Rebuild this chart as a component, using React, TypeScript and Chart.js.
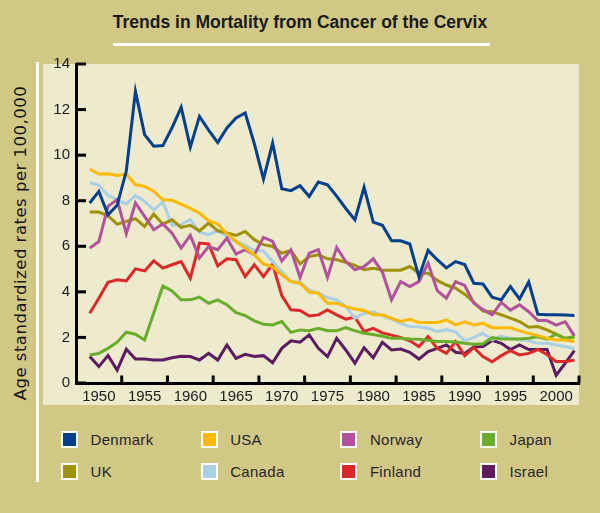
import React, { useEffect, useRef } from "react";
import { Chart, registerables } from "chart.js";

Chart.register(...registerables);

// ---------- DATA ----------
const years = [
  1949, 1950, 1951, 1952, 1953, 1954, 1955, 1956, 1957, 1958,
  1959, 1960, 1961, 1962, 1963, 1964, 1965, 1966, 1967, 1968,
  1969, 1970, 1971, 1972, 1973, 1974, 1975, 1976, 1977, 1978,
  1979, 1980, 1981, 1982, 1983, 1984, 1985, 1986, 1987, 1988,
  1989, 1990, 1991, 1992, 1993, 1994, 1995, 1996, 1997, 1998,
  1999, 2000, 2001, 2002,
];

const denmark = [
  7.9, 8.41, 7.38, 7.8, 9.3, 12.8, 10.9, 10.39, 10.42, 11.2,
  12.1, 10.35, 11.7, 11.1, 10.55, 11.19, 11.63, 11.85, 10.5, 8.95,
  10.53, 8.53, 8.44, 8.66, 8.19, 8.82, 8.7, 8.2, 7.66, 7.16,
  8.59, 7.06, 6.92, 6.24, 6.24, 6.1, 4.65, 5.82, 5.41, 5.05,
  5.33, 5.2, 4.38, 4.35, 3.77, 3.65, 4.23, 3.69, 4.43, 3.02,
  3.0, 3.0, 2.98, 2.96,
];

const usa = [
  9.38, 9.17, 9.18, 9.11, 9.17, 8.7, 8.63, 8.42, 8.04, 8.02,
  7.85, 7.66, 7.46, 7.12, 6.97, 6.55, 6.21, 5.92, 5.63, 5.22,
  5.11, 4.75, 4.45, 4.38, 3.99, 3.94, 3.5, 3.5, 3.35, 3.25,
  3.18, 2.99, 2.99, 2.84, 2.7, 2.8, 2.65, 2.65, 2.65, 2.77,
  2.55, 2.68, 2.55, 2.62, 2.43, 2.43, 2.43, 2.29, 2.18, 2.08,
  1.96, 1.89, 1.89, 1.82,
];

const norway = [
  5.92, 6.21, 7.75, 8.05, 6.55, 7.9, 7.31, 6.73, 6.98, 6.58,
  5.92, 6.48, 5.48, 5.99, 5.85, 6.36, 5.66, 5.85, 5.63, 6.39,
  6.21, 5.36, 5.85, 4.63, 5.7, 5.85, 4.63, 5.95, 5.33, 4.97,
  5.11, 5.45, 4.87, 3.65, 4.45, 4.23, 4.45, 5.26, 4.05, 3.72,
  4.45, 4.28, 3.5, 3.22, 2.99, 3.54, 3.2, 3.43, 3.13, 2.74,
  2.74, 2.54, 2.69, 2.07,
];

const japan = [
  1.23, 1.3, 1.52, 1.79, 2.23, 2.14, 1.89, 3.07, 4.26, 4.04,
  3.65, 3.65, 3.77, 3.5, 3.65, 3.43, 3.09, 2.96, 2.73, 2.58,
  2.55, 2.7, 2.22, 2.33, 2.29, 2.4, 2.29, 2.29, 2.43, 2.29,
  2.18, 2.13, 2.05, 1.96, 1.96, 1.93, 1.92, 1.88, 1.82, 1.82,
  1.8, 1.74, 1.7, 1.72, 1.99, 1.93, 1.93, 1.93, 1.96, 2.03,
  1.92, 2.14, 1.93, 2.03,
];

const uk = [
  7.5, 7.5, 7.34, 6.97, 7.09, 7.21, 6.87, 7.41, 6.97, 7.16,
  6.83, 6.92, 6.68, 7.02, 6.68, 6.58, 6.48, 6.65, 6.29, 6.07,
  5.99, 5.7, 5.82, 5.23, 5.55, 5.63, 5.45, 5.41, 5.3, 5.16,
  4.97, 5.04, 4.95, 4.95, 4.95, 5.11, 4.82, 4.82, 4.5, 4.3,
  4.16, 3.9, 3.55, 3.16, 3.13, 2.99, 2.85, 2.7, 2.45, 2.48,
  2.33, 2.15, 1.96, 2.03,
];

const canada = [
  8.8, 8.68, 8.24, 8.05, 7.85, 8.23, 7.97, 7.6, 7.95, 6.92,
  6.95, 7.18, 6.62, 6.51, 6.68, 6.43, 6.21, 6.04, 5.82, 5.8,
  5.33, 4.89, 4.45, 4.42, 4.09, 3.94, 3.75, 3.65, 3.35, 2.84,
  3.06, 3.12, 2.95, 2.8, 2.62, 2.48, 2.47, 2.4, 2.26, 2.35,
  2.24, 1.85, 2.0, 2.18, 1.9, 2.06, 1.96, 1.89, 1.85, 1.74,
  1.74, 1.67, 1.6, 1.5,
];

const finland = [
  3.06, 3.72, 4.42, 4.53, 4.48, 5.01, 4.92, 5.36, 5.04, 5.19,
  5.33, 4.6, 6.14, 6.1, 5.14, 5.45, 5.41, 4.67, 5.19, 4.67,
  5.22, 3.84, 3.21, 3.18, 2.94, 2.99, 3.21, 2.99, 2.8, 2.89,
  2.26, 2.4, 2.2, 2.1, 2.0, 1.85, 1.6, 2.04, 1.52, 1.3,
  1.82, 1.2, 1.55, 1.16, 0.93, 1.2, 1.42, 1.23, 1.3, 1.47,
  1.25, 0.94, 0.94, 1.0,
];

const israel = [
  1.16, 0.72, 1.2, 0.57, 1.48, 1.05, 1.05, 1.01, 1.01, 1.11,
  1.17, 1.16, 1.01, 1.3, 1.01, 1.67, 1.08, 1.26, 1.16, 1.2,
  0.89, 1.52, 1.85, 1.79, 2.11, 1.52, 1.16, 1.96, 1.45, 0.87,
  1.55, 1.11, 1.79, 1.45, 1.49, 1.35, 1.05, 1.38, 1.52, 1.67,
  1.35, 1.3, 1.58, 1.6, 1.87, 1.74, 1.47, 1.67, 1.47, 1.47,
  1.47, 0.34, 0.87, 1.42,
];

const seriesNames = ["Denmark", "USA", "Norway", "Japan", "UK", "Canada", "Finland", "Israel"];
const seriesValues = [denmark, usa, norway, japan, uk, canada, finland, israel];
const seriesColors = ["#023f8c", "#fbb900", "#b0539b", "#69ad2a", "#9e9200", "#a9d0e6", "#dc2927", "#5b1c60"];

const xLabelYears = [1950, 1955, 1960, 1965, 1970, 1975, 1980, 1985, 1990, 1995, 2000];
const xBoundaries = [1952.5, 1957.5, 1962.5, 1967.5, 1972.5, 1977.5, 1982.5, 1987.5, 1992.5, 1997.5, 2002.5];
const xMin = 1947.5;
const xMax = 2002.5;
const yTickValues = [0, 2, 4, 6, 8, 10, 12, 14];

const titleText = "Trends in Mortality from Cancer of the Cervix";
const yTitleText = "Age standardized rates per 100,000";

// ---------- STYLE ----------
const TAN = "#d1c886";
const CREAM = "#edeace";
const FONT = "'Liberation Sans', Arial, sans-serif";

const tickMarkPlugin = {
  id: "tickMarks",
  afterDatasetsDraw(chart: any) {
    const { ctx, chartArea, scales } = chart;
    ctx.save();
    ctx.strokeStyle = "#000";
    ctx.lineWidth = 3;
    ctx.lineCap = "butt";
    // y ticks pointing inward
    yTickValues.forEach((v) => {
      const y = scales.y.getPixelForValue(v);
      ctx.beginPath();
      ctx.moveTo(chartArea.left, y);
      ctx.lineTo(chartArea.left + 10, y);
      ctx.stroke();
    });
    // x boundary ticks pointing up
    xBoundaries.forEach((v) => {
      const x = scales.x.getPixelForValue(v);
      ctx.beginPath();
      ctx.moveTo(x, chartArea.bottom);
      ctx.lineTo(x, chartArea.bottom - 7.5);
      ctx.stroke();
    });
    ctx.restore();
  },
};

function ChartCanvas() {
  const ref = useRef<HTMLCanvasElement | null>(null);
  useEffect(() => {
    if (!ref.current) return;
    const datasets = seriesNames.map((name, i) => ({
      label: name,
      data: years.map((yr, j) => ({ x: yr, y: seriesValues[i][j] })),
      borderColor: seriesColors[i],
      backgroundColor: seriesColors[i],
      borderWidth: 3,
      pointRadius: 0,
      tension: 0,
      fill: false,
      borderJoinStyle: "miter" as const,
    }));
    const chart = new Chart(ref.current, {
      type: "line",
      data: { datasets },
      options: {
        animation: false,
        responsive: false,
        maintainAspectRatio: false,
        layout: { padding: { top: 64, right: 21, left: 0, bottom: 0 } },
        plugins: {
          legend: { display: false },
          title: { display: false },
          tooltip: { enabled: false },
        },
        scales: {
          x: {
            type: "linear",
            min: xMin,
            max: xMax,
            afterBuildTicks: (s: any) => {
              s.ticks = xLabelYears.map((v) => ({ value: v }));
            },
            afterFit: (s: any) => {
              s.height = 37;
            },
            grid: { display: false, drawTicks: false },
            border: { display: true, color: "#000", width: 3 },
            ticks: {
              padding: 5,
              autoSkip: false,
              maxRotation: 0,
              color: "#1c1c1c",
              font: { family: FONT, size: 15 },
              callback: (v: any) => String(v),
            },
          },
          y: {
            type: "linear",
            min: 0,
            max: 14,
            afterBuildTicks: (s: any) => {
              s.ticks = yTickValues.map((v) => ({ value: v }));
            },
            afterFit: (s: any) => {
              s.width = 76;
            },
            grid: { display: false, drawTicks: false },
            border: { display: true, color: "#000", width: 3 },
            ticks: {
              padding: 6,
              color: "#1c1c1c",
              font: { family: FONT, size: 15 },
            },
          },
        },
      } as any,
      plugins: [tickMarkPlugin],
    });
    return () => chart.destroy();
  }, []);
  return (
    <canvas
      ref={ref}
      width={600}
      height={420}
      style={{ position: "absolute", left: 0, top: 0, width: 600, height: 420 }}
    />
  );
}

export default function App() {
  const legendCols = 4;
  return (
    <div
      style={{
        position: "absolute",
        left: 0,
        top: 0,
        width: 600,
        height: 513,
        background: TAN,
        overflow: "hidden",
        fontFamily: FONT,
      }}
    >
      <div
        style={{
          position: "absolute",
          left: 0,
          top: 12,
          width: 600,
          textAlign: "center",
          fontWeight: "bold",
          fontSize: 17.5,
          lineHeight: "20px",
          color: "#1a1a1a",
        }}
      >
        {titleText}
      </div>
      <div style={{ position: "absolute", left: 113, top: 43, width: 377, height: 3, background: "#fff" }} />
      <div style={{ position: "absolute", left: 36, top: 62, width: 3, height: 420, background: "#fff" }} />
      <div style={{ position: "absolute", left: 43, top: 64, width: 536, height: 341, background: CREAM }} />
      <div
        style={{
          position: "absolute",
          left: 21 - 170,
          top: 243 - 11,
          width: 340,
          height: 22,
          lineHeight: "22px",
          textAlign: "center",
          transform: "rotate(-90deg)",
          fontFamily: "'DejaVu Sans', sans-serif",
          fontSize: 16.5,
          letterSpacing: 0.5,
          color: "#151515",
          whiteSpace: "nowrap",
        }}
      >
        {yTitleText}
      </div>
      <ChartCanvas />
      {seriesNames.map((name, i) => {
        const col = i % legendCols;
        const row = Math.floor(i / legendCols);
        const left = 61 + col * 139.7;
        const top = 431 + row * 32;
        return (
          <div key={name} style={{ position: "absolute", left, top, height: 17, whiteSpace: "nowrap" }}>
            <div
              style={{
                position: "absolute",
                left: 0,
                top: 0,
                width: 13,
                height: 13,
                border: "2px solid #fff",
                background: seriesColors[i],
              }}
            />
            <div
              style={{
                position: "absolute",
                left: 29.5,
                top: -1,
                lineHeight: "19px",
                fontSize: 15,
                color: "#262626",
                letterSpacing: 0.3,
              }}
            >
              {name}
            </div>
          </div>
        );
      })}
    </div>
  );
}
